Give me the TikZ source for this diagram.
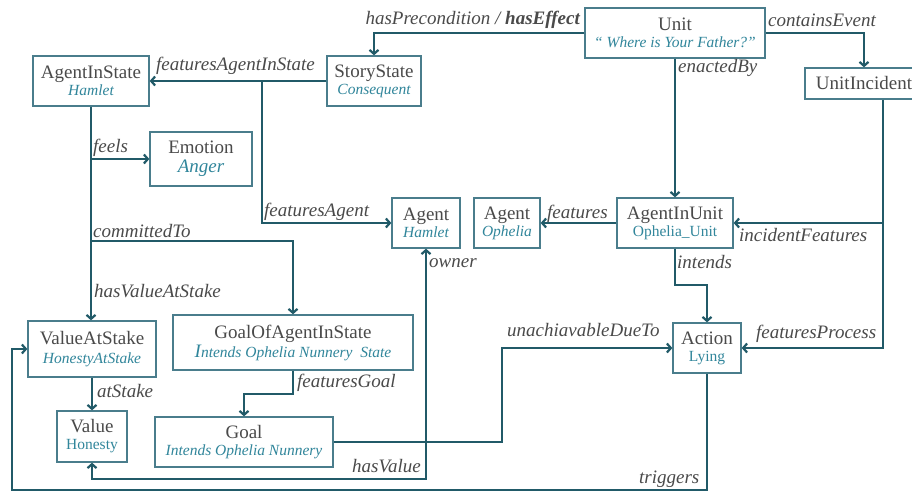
\documentclass[tikz,border=0pt]{standalone}
\usepackage{fontspec}
\setmainfont{Liberation Serif}
\usetikzlibrary{arrows.meta,shadows}
\definecolor{conncol}{HTML}{215A68}
\definecolor{boxcol}{HTML}{4A7D8C}
\definecolor{ttlcol}{HTML}{4A4A4A}
\definecolor{subcol}{HTML}{31869B}
\definecolor{lblcol}{HTML}{4A4A4A}
\newcommand\ttl[1]{{\fontsize{19}{21}\selectfont\color{ttlcol}#1}}
\newcommand\subit[1]{{\fontsize{15.5}{17}\selectfont\itshape\color{subcol}#1}}
\newcommand\subup[1]{{\fontsize{15.5}{17}\selectfont\color{subcol}#1}}
\begin{document}
\begin{tikzpicture}[x=1pt,y=-1pt,
 box/.style={draw=boxcol,line width=1.3pt,fill=white,inner sep=0pt,align=center,
   font=\fontsize{15}{17}\selectfont,
   drop shadow={shadow xshift=1.2pt,shadow yshift=-1.2pt,opacity=0.25}},
 conn/.style={draw=conncol,line width=2.4pt,-{Straight Barb[length=4pt,width=9pt,line width=2.2pt]}},
 wire/.style={draw=conncol,line width=2.4pt},
 lbl/.style={font=\fontsize{19}{21}\selectfont\itshape,text=lblcol,inner sep=0pt}]
\useasboundingbox[fill=white] (0,0) rectangle (912,494);

% nodes
\node[box,minimum width=180pt,minimum height=50pt] (unit) at (675,33) {\ttl{Unit}\\[0pt]\subit{“ Where is Your Father?”}};
\node[box,minimum width=118pt,minimum height=31pt] (ui) at (864,83.5) {\ttl{UnitIncident}};
\node[box,minimum width=94pt,minimum height=50pt] (ss) at (374,81) {\ttl{StoryState}\\[0pt]\subit{Consequent}};
\node[box,minimum width=116pt,minimum height=50pt] (ais) at (91,81) {\ttl{AgentInState}\\[0pt]\subit{Hamlet}};
\node[box,minimum width=102pt,minimum height=54pt] (emo) at (201,159) {\ttl{Emotion}\\[2pt]{\fontsize{19}{21}\selectfont\itshape\color{subcol}Anger}};
\node[box,minimum width=68pt,minimum height=50pt] (ah) at (426,223) {\ttl{Agent}\\[0pt]\subit{Hamlet}};
\node[box,minimum width=66pt,minimum height=50pt] (ao) at (507,223) {\ttl{Agent}\\[0pt]\subit{Ophelia}};
\node[box,minimum width=116pt,minimum height=50pt] (aiu) at (675,223) {\ttl{AgentInUnit}\\[0pt]\subup{Ophelia\_Unit}};
\node[box,minimum width=128pt,minimum height=56pt] (vas) at (92,349) {\ttl{ValueAtStake}\\[2pt]\subit{HonestyAtStake}};
\node[box,minimum width=240pt,minimum height=55pt] (goais) at (293,342.5) {\ttl{GoalOfAgentInState}\\[2pt]\subit{{\fontsize{19}{17}\selectfont I}ntends Ophelia Nunnery\ \ State}};
\node[box,minimum width=70pt,minimum height=51pt] (val) at (92,436.5) {\ttl{Value}\\[0pt]\subup{Honesty}};
\node[box,minimum width=178pt,minimum height=50pt] (goal) at (244,442) {\ttl{Goal}\\[0pt]\subit{Intends Ophelia Nunnery}};
\node[box,minimum width=68pt,minimum height=50pt] (act) at (707,348) {\ttl{Action}\\[0pt]\subup{Lying}};

% helper coordinates
\coordinate (fa) at (262,81);
\coordinate (cm) at (0,241);
\coordinate (fg) at (0,394);
\coordinate (ua) at (502,442);
\coordinate (hv) at (0,479);
\coordinate (uix) at (883,0);
\coordinate (it) at (0,285);
\coordinate (tr) at (0,490);
\coordinate (tl) at (12,490);

% connectors
\draw[conn] (unit.west) -| (ss.north);
\draw[conn] (unit.east) -| (ui.north);
\draw[conn] (unit.south) -- (unit.south |- aiu.north);
\draw[conn] (ss.west) -- (ais.east);
\draw[conn] (fa) |- (ah.west);
\draw[conn] (ais.south) -- (ais.south |- vas.north);
\draw[conn] (ais.south |- emo.west) -- (emo.west);
\draw[conn] (ais.south |- cm) -| (goais.north);
\draw[conn] (vas.south) -- (vas.south |- val.north);
\draw[conn] (goais.south) -- (goais.south |- fg) -| (goal.north);
\draw[conn] (goal.east) -- (ua) |- (act.west);
\draw[conn] (ah.south |- goal.east) -- (ah.south);
\draw[conn] (ah.south |- goal.east) -- (ah.south |- hv) -| (val.south);
\draw[conn] (aiu.west) -- (aiu.west -| ao.east);
\draw[wire] (ui.south -| uix) -- (uix |- aiu.east);
\draw[conn] (uix |- aiu.east) -- (aiu.east);
\draw[conn] (uix |- aiu.east) |- (act.east);
\draw[conn] (aiu.south) -- (aiu.south |- it) -| (act.north);
\draw[conn] (act.south) -- (act.south |- tr) -- (tl) |- (vas.west);

% labels
\node[lbl,anchor=base east] (l1) at (580,25) {hasPrecondition / \textbf{hasEffect}};
\node[lbl,anchor=base west] (l2) at (768,27) {containsEvent};
\node[lbl,anchor=base west] (l3) at (678,73) {enactedBy};
\node[lbl,anchor=base west] (l4) at (156,71) {featuresAgentInState};
\node[lbl,anchor=base west] (l5) at (264,217) {featuresAgent};
\node[lbl,anchor=base west] (l6) at (93,153) {feels};
\node[lbl,anchor=base west] (l7) at (93,238) {committedTo};
\node[lbl,anchor=base west] (l8) at (94,297) {hasValueAtStake};
\node[lbl,anchor=base west] (l9) at (97,397) {atStake};
\node[lbl,anchor=base west] (l10) at (297,387) {featuresGoal};
\node[lbl,anchor=base east] (l11) at (421,472) {hasValue};
\node[lbl,anchor=base west] (l12) at (429,267) {owner};
\node[lbl,anchor=base west] (l13) at (547,219) {features};
\node[lbl,anchor=base west] (l14) at (739,241) {incidentFeatures};
\node[lbl,anchor=base west] (l15) at (677,268) {intends};
\node[lbl,anchor=base west] (l16) at (507,336) {unachiavableDueTo};
\node[lbl,anchor=base west] (l17) at (756,338) {featuresProcess};
\node[lbl,anchor=base west] (l18) at (639,483) {triggers};
\end{tikzpicture}
\end{document}
